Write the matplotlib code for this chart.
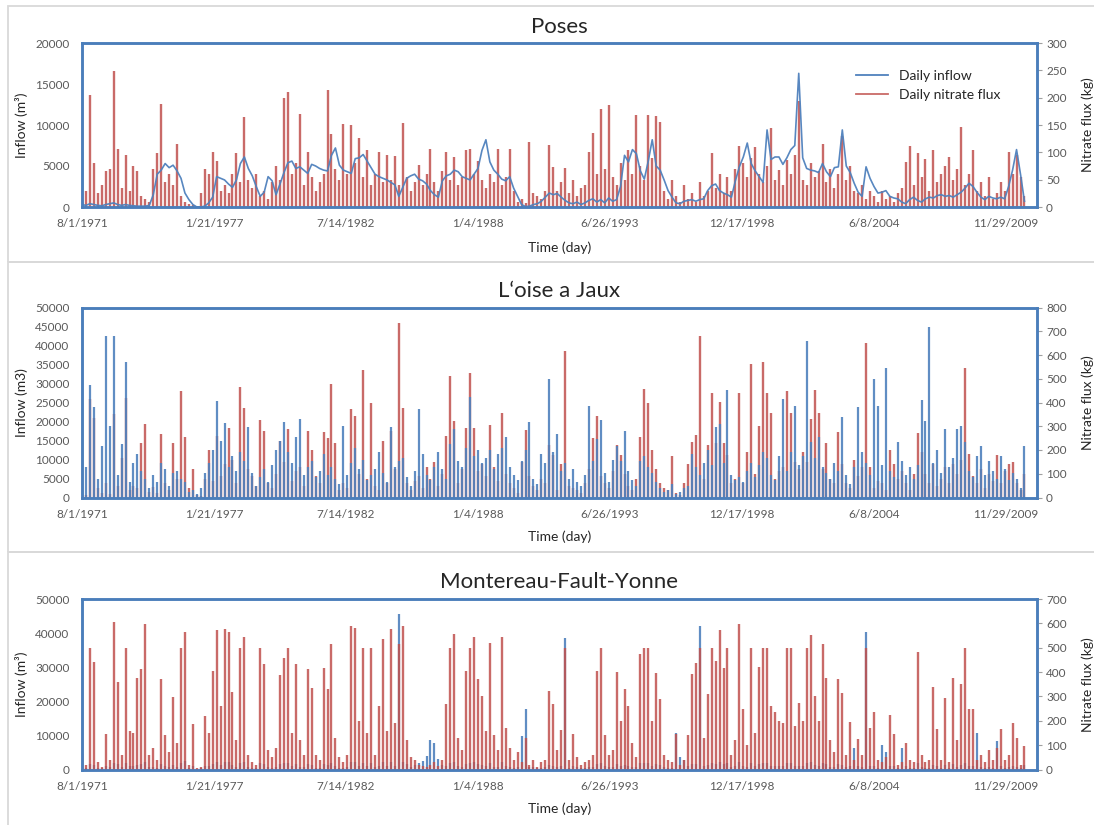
import datetime
import matplotlib
matplotlib.use('Agg')
import matplotlib.pyplot as plt
import matplotlib.ticker as mticker
from matplotlib.lines import Line2D
from matplotlib.patches import Rectangle

plt.rcParams['font.family'] = ['Lato', 'DejaVu Sans']

# one sample every 60 days, starting 8/1/1971
START = datetime.date(1971, 8, 1)
STEP_DAYS = 60

poses_inflow = [
    300, 200, 400, 300, 200, 150, 300, 400, 500, 300,
    200, 300, 200, 150, 100, 100, 100, 200, 1500, 4000,
    4500, 5300, 4800, 5100, 4400, 3500, 1700, 900, 300, 0,
    0, 100, 500, 1200, 3700, 3500, 3300, 2800, 2400, 3300,
    5300, 6100, 4700, 3800, 2500, 1300, 1800, 3700, 3200, 1500,
    2800, 4200, 5400, 5600, 4700, 4900, 4500, 4100, 5200, 5000,
    4700, 4500, 4400, 6300, 7200, 5100, 4500, 4300, 4100, 5900,
    6000, 6400, 5600, 4800, 4000, 3700, 3500, 3300, 3000, 2700,
    1300, 2400, 3500, 3800, 4000, 3400, 3200, 2800, 2000, 1500,
    1200, 3200, 3800, 4000, 4500, 4300, 3700, 3500, 3300, 4000,
    4700, 6900, 8200, 5500, 4500, 4000, 3400, 3200, 3700, 2300,
    1300, 300, 50, 100, 300, 400, 700, 1200, 1700, 1500,
    1650, 1200, 800, 500, 400, 600, 300, 500, 800, 1000,
    600, 900, 500, 1100, 700, 900, 2500, 6300, 5500, 7000,
    6500, 4400, 3400, 5600, 8200, 5000, 4500, 3300, 2000, 1200,
    500, 400, 700, 800, 900, 700, 900, 1000, 2000, 2600,
    2800, 2000, 1700, 1500, 1200, 3200, 4900, 6100, 7800, 5300,
    4400, 3700, 3000, 9400, 5800, 6100, 6100, 5200, 6000, 7000,
    7500, 16300, 6000, 4700, 4500, 4400, 4200, 5300, 4300, 3700,
    4800, 4900, 9400, 5000, 4200, 2900, 1800, 1300, 4900, 3500,
    2500, 1700, 1800, 2000, 1300, 1100, 1000, 600, 400, 900,
    1200, 800, 600, 1000, 1200, 1100, 1400, 1500, 1300, 1400,
    1200, 1500, 1800, 2300, 2900, 2500, 1800, 1200, 900, 1300,
    1100, 1000, 1200, 1000, 2500, 4500, 7000, 4000, 700,
]
poses_flux = [
    100, 30, 205, 80, 25, 40, 65, 70, 249, 107,
    35, 95, 30, 75, 65, 20, 15, 10, 70, 98,
    188, 45, 60, 40, 116, 20, 10, 5, 3, 2,
    25, 70, 60, 100, 85, 30, 40, 25, 60, 98,
    45, 164, 50, 35, 60, 20, 30, 15, 45, 75,
    50, 200, 211, 60, 80, 170, 40, 100, 55, 30,
    45, 60, 214, 134, 70, 50, 152, 60, 150, 80,
    127, 55, 105, 40, 60, 100, 45, 95, 50, 93,
    40, 154, 55, 30, 45, 77, 40, 60, 107, 45,
    30, 65, 100, 50, 92, 40, 55, 104, 107, 60,
    85, 50, 35, 60, 45, 107, 40, 55, 107, 30,
    10, 15, 8, 118, 25, 20, 15, 30, 113, 74,
    30, 45, 71, 25, 50, 20, 35, 40, 101, 135,
    60, 180, 70, 187, 55, 40, 80, 50, 104, 60,
    168, 75, 50, 168, 90, 167, 156, 30, 15, 50,
    20, 10, 40, 15, 25, 10, 45, 20, 30, 98,
    35, 60, 25, 55, 30, 70, 112, 80, 55, 90,
    110, 60, 45, 75, 144, 50, 68, 40, 86, 60,
    95, 193, 50, 40, 80, 55, 65, 116, 45, 70,
    35, 60, 129, 50, 75, 30, 25, 40, 15, 30,
    20, 10, 30, 15, 20, 10, 25, 35, 83, 112,
    40, 98, 55, 88, 30, 104, 45, 60, 75, 92,
    50, 70, 146, 40, 60, 104, 30, 45, 20, 55,
    15, 25, 45, 30, 101, 60, 95, 55, 20,
]

oise_inflow = [
    3000, 8000, 29500, 23800, 5000, 13500, 42400, 18800, 42600, 6000,
    14000, 35600, 4000, 9000, 11500, 7000, 5000, 2500, 6000, 4000,
    9000, 7500, 3000, 6500, 7000, 5000, 4000, 1500, 2000, 1000,
    2500, 6500, 9000, 12500, 25300, 15000, 19600, 8000, 11000, 7000,
    12000, 9500, 18600, 6500, 3000, 5500, 7500, 4000, 8500, 12500,
    15000, 20000, 12000, 9000, 16000, 20700, 6000, 8000, 9500, 5500,
    7000, 11500, 6000, 8000, 5000, 3500, 18900, 6000, 9000, 13000,
    7500, 10000, 4500, 6000, 7500, 12000, 6500, 4000, 18600, 8000,
    9500, 10500, 5500, 3000, 7000, 23300, 11500, 6000, 4500, 8000,
    12000, 7500, 5000, 14000, 17900, 9500, 8000, 13000, 26500, 11000,
    12500, 9000, 10500, 12500, 7500, 11500, 13000, 15900, 8000, 6000,
    4500, 9500, 12500, 19900, 5000, 3500, 11500, 9000, 31300, 12000,
    16700, 7000, 9000, 5000, 7500, 4000, 3000, 6000, 24200, 9500,
    15500, 20500, 6500, 4000, 10000, 13500, 9500, 17500, 7000, 4500,
    3000, 9500, 11000, 8000, 6500, 4000, 2500, 1500, 2000, 3500,
    1000, 1500, 2500, 3000, 11500, 8000, 6000, 9000, 12500, 8500,
    18500, 19400, 9000, 28200, 6000, 4500, 5500, 4000, 7000, 9000,
    5500, 8500, 12000, 10500, 6000, 4500, 11000, 25800, 7000, 12000,
    24200, 8500, 11000, 41200, 14500, 10500, 16000, 8000, 6500, 5000,
    9000, 7000, 21100, 6000, 3500, 8000, 23700, 12000, 9000, 6000,
    31300, 24000, 8500, 34100, 7000, 5500, 14500, 9500, 6000, 8000,
    5000, 8500, 25600, 20100, 44800, 9000, 12500, 6500, 17900, 8000,
    10500, 17900, 18800, 14500, 7000, 5500, 11000, 13500, 6000, 9500,
    7000, 5000, 11000, 7500, 4500, 6500, 5000, 2500, 13500,
]
oise_flux = [
    30, 10, 415, 335, 40, 20, 60, 15, 352, 50,
    167, 417, 30, 50, 40, 230, 309, 25, 45, 20,
    268, 60, 30, 230, 80, 450, 254, 40, 120, 10,
    5, 80, 202, 70, 260, 90, 140, 292, 160, 60,
    465, 378, 120, 90, 50, 326, 279, 60, 40, 100,
    237, 150, 290, 70, 110, 130, 50, 282, 200, 90,
    60, 275, 250, 479, 230, 30, 60, 40, 373, 345,
    100, 536, 80, 399, 50, 30, 237, 60, 279, 120,
    734, 376, 60, 30, 70, 90, 40, 130, 80, 150,
    50, 100, 260, 511, 324, 60, 120, 293, 526, 293,
    110, 140, 90, 305, 130, 70, 357, 100, 60, 40,
    20, 150, 286, 90, 50, 30, 80, 60, 220, 180,
    30, 140, 616, 50, 40, 30, 20, 60, 120, 250,
    343, 90, 60, 40, 110, 219, 180, 100, 50, 30,
    80, 254, 458, 399, 199, 120, 60, 40, 30, 174,
    20, 10, 60, 140, 233, 265, 678, 80, 220, 438,
    230, 404, 230, 180, 60, 80, 441, 60, 190, 564,
    100, 300, 569, 438, 357, 80, 110, 130, 448, 357,
    150, 120, 190, 150, 329, 452, 354, 120, 230, 80,
    60, 275, 140, 60, 40, 160, 90, 130, 649, 130,
    40, 70, 60, 30, 202, 140, 80, 110, 60, 30,
    100, 270, 190, 100, 60, 140, 50, 80, 130, 60,
    140, 100, 160, 546, 185, 90, 60, 120, 40, 100,
    70, 178, 60, 110, 140, 149, 60, 30, 100,
]

mont_inflow = [
    800, 400, 1500, 1200, 500, 300, 900, 600, 2000, 1500,
    700, 1800, 1000, 900, 1400, 1600, 2200, 600, 800, 500,
    1500, 900, 600, 1200, 700, 2000, 2400, 400, 1000, 200,
    300, 1100, 900, 1600, 2200, 1200, 2300, 2100, 1400, 800,
    2000, 2200, 600, 400, 300, 1900, 1700, 700, 500, 800,
    1500, 1800, 2000, 900, 1700, 800, 600, 1600, 1300, 500,
    400, 1600, 1300, 2000, 900, 500, 400, 600, 2300, 2200,
    1000, 1900, 900, 2000, 600, 1100, 2100, 1000, 2200, 1100,
    45500, 2300, 1500, 800, 1200, 1800, 2500, 4000, 8600, 7800,
    3000, 1200, 1100, 1900, 2100, 900, 700, 1600, 1900, 2100,
    1500, 1200, 900, 2000, 800, 600, 2100, 1000, 700, 500,
    800, 9800, 17600, 600, 700, 400, 500, 600, 1300, 1100,
    700, 1000, 38700, 500, 1000, 600, 400, 500, 600, 700,
    1600, 1900, 1000, 600, 800, 1600, 1100, 1300, 1100, 800,
    600, 1800, 1900, 1900, 1100, 1600, 1200, 600, 500, 400,
    10800, 3600, 2800, 900, 1600, 1700, 42200, 900, 1300, 1900,
    1700, 2200, 1600, 1900, 600, 900, 2300, 1100, 800, 1900,
    1000, 1600, 1900, 1900, 1100, 1000, 900, 900, 1900, 1900,
    1000, 1100, 1000, 1900, 2100, 1200, 1000, 2000, 1500, 800,
    600, 1500, 1300, 600, 1000, 6400, 900, 600, 40300, 900,
    1000, 500, 7300, 5000, 1000, 900, 400, 6200, 900, 500,
    400, 1900, 600, 400, 500, 1400, 1000, 500, 1200, 400,
    1500, 800, 1400, 1900, 1100, 1100, 10800, 600, 500, 700,
    500, 8300, 1000, 500, 600, 900, 800, 300, 1200,
]
mont_flux = [
    62, 20, 500, 442, 30, 10, 144, 40, 605, 360,
    60, 500, 160, 150, 374, 414, 599, 60, 90, 40,
    370, 140, 70, 299, 110, 500, 566, 20, 188, 5,
    10, 218, 150, 404, 571, 260, 575, 566, 319, 120,
    500, 544, 60, 30, 20, 500, 434, 80, 50, 90,
    390, 459, 500, 150, 434, 120, 60, 411, 336, 60,
    40, 418, 329, 514, 130, 50, 30, 60, 588, 582,
    200, 500, 150, 500, 60, 260, 534, 160, 577, 190,
    517, 590, 120, 50, 40, 20, 15, 10, 20, 30,
    15, 40, 267, 500, 555, 130, 80, 404, 500, 545,
    370, 301, 160, 521, 140, 80, 544, 170, 90, 40,
    70, 30, 130, 20, 40, 10, 30, 40, 322, 267,
    80, 164, 500, 40, 144, 50, 20, 30, 40, 60,
    404, 500, 140, 60, 80, 401, 200, 329, 260, 110,
    50, 475, 500, 500, 200, 397, 288, 60, 40, 30,
    144, 20, 40, 140, 393, 436, 500, 130, 308, 500,
    445, 571, 418, 500, 60, 120, 599, 247, 100, 500,
    150, 420, 500, 500, 260, 237, 199, 190, 500, 500,
    180, 271, 200, 500, 552, 301, 200, 514, 374, 120,
    70, 370, 315, 60, 196, 40, 127, 60, 500, 170,
    237, 40, 30, 50, 223, 144, 20, 30, 110, 40,
    30, 484, 60, 30, 40, 338, 168, 40, 295, 30,
    377, 120, 352, 500, 249, 247, 40, 60, 30, 80,
    40, 90, 168, 40, 60, 192, 130, 20, 96,
]

x_ticks = [0, 2000, 4000, 6000, 8000, 10000, 12000, 14000]
X_MAX = 14470

BLUE = '#4F81BD'
RED = '#C0504D'
FRAME = '#4A7EBB'
GREY = '#595959'

W, H = 1094, 825


def day_label(x, pos):
    d = START + datetime.timedelta(days=int(round(x)))
    return f'{d.month}/{d.day}/{d.year}'


panels = [
    dict(title='Poses', inflow=poses_inflow, flux=poses_flux, top=43, bottom=207,
         ymax=20000, ystep=5000, fmax=300, fstep=50, ylabel='Inflow (m³)',
         inflow_line=True, inflow_front=True, legend=True,
         box=(6, 262), title_y=27, xlabel_y=248),
    dict(title='L‘oise a Jaux', inflow=oise_inflow, flux=oise_flux, top=307.5, bottom=497.5,
         ymax=50000, ystep=5000, fmax=800, fstep=100, ylabel='Inflow (m3)',
         inflow_line=False, inflow_front=True, legend=False,
         box=(262, 552), title_y=291, xlabel_y=537),
    dict(title='Montereau-Fault-Yonne', inflow=mont_inflow, flux=mont_flux, top=599, bottom=769.5,
         ymax=50000, ystep=10000, fmax=700, fstep=100, ylabel='Inflow (m³)',
         inflow_line=False, inflow_front=False, legend=False,
         box=(552, 830), title_y=582, xlabel_y=809),
]

fig = plt.figure(figsize=(W / 100, H / 100), dpi=100)
fig.patch.set_facecolor('white')

left_px, right_px = 82, 1037
for p in panels:
    # grey chart-area border like the Excel chart boxes
    y0, y1 = p['box']
    fig.add_artist(Rectangle((8 / W, 1 - y1 / H), (1100 - 8) / W, (y1 - y0) / H,
                             transform=fig.transFigure, fill=False,
                             ec='#D9D9D9', lw=1.3))

    ax = fig.add_axes([left_px / W, 1 - p['bottom'] / H,
                       (right_px - left_px) / W, (p['bottom'] - p['top']) / H])
    ax2 = ax.twinx()

    days = [i * STEP_DAYS for i in range(len(p['flux']))]
    ax2.vlines(days, 0, p['flux'], color=RED, lw=1.7, alpha=0.85)
    if p['inflow_line']:
        ax.plot(days, p['inflow'], color=BLUE, lw=1.2, alpha=0.95)
    else:
        ax.vlines(days, 0, p['inflow'], color=BLUE, lw=1.6, alpha=0.9)

    if p['inflow_front']:
        ax.set_zorder(ax2.get_zorder() + 1)
        ax.patch.set_visible(False)

    ax.set_xlim(0, X_MAX)
    ax.set_ylim(0, p['ymax'])
    ax2.set_ylim(0, p['fmax'])
    ax.set_yticks(range(0, p['ymax'] + 1, p['ystep']))
    ax2.set_yticks(range(0, p['fmax'] + 1, p['fstep']))
    ax.set_xticks(x_ticks)
    ax.xaxis.set_major_formatter(mticker.FuncFormatter(day_label))

    ax.tick_params(axis='y', length=0, pad=9, labelsize=8.5, labelcolor=GREY)
    ax.tick_params(axis='x', length=0, pad=8, labelsize=8.5, labelcolor=GREY)
    ax2.tick_params(axis='y', length=3.5, width=0.8, color='#A0A0A0', pad=3,
                    labelsize=8.5, labelcolor=GREY)

    for a in (ax, ax2):
        for s in a.spines.values():
            s.set_color(FRAME)
            s.set_linewidth(1.8)

    cx = (left_px + right_px) / 2 / W
    fig.text(cx, 1 - p['title_y'] / H, p['title'], ha='center', va='center',
             fontsize=16, color='#262626')
    fig.text(cx, 1 - p['xlabel_y'] / H, 'Time (day)', ha='center', va='center',
             fontsize=10, color='#262626')
    mid = 1 - (p['top'] + p['bottom']) / 2 / H
    fig.text(22 / W, mid, p['ylabel'], ha='center', va='center', rotation=90,
             fontsize=10, color='#262626')
    fig.text(1088 / W, mid, 'Nitrate flux (kg)', ha='center', va='center',
             rotation=90, fontsize=10, color='#262626')

    if p['legend']:
        handles = [Line2D([], [], color=BLUE, lw=1.3),
                   Line2D([], [], color=RED, lw=1.3, alpha=0.85)]
        leg = ax.legend(handles, ['Daily inflow', 'Daily nitrate flux'],
                        loc='upper right', bbox_to_anchor=(0.975, 0.91),
                        frameon=False, fontsize=10, handlelength=2.3,
                        labelspacing=0.5)
        for t in leg.get_texts():
            t.set_color('#262626')

fig.savefig('out.png', dpi=100)
